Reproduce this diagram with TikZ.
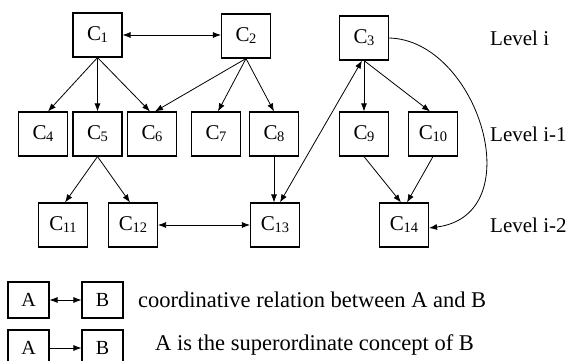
\documentclass[tikz,border=0pt]{standalone}
\usepackage{fontspec}
\setmainfont{Liberation Serif}
\usetikzlibrary{arrows.meta}
\newcommand{\cc}[1]{C\kern-0.5pt\raisebox{-0.2ex}{\fontsize{14.5}{14.5}\selectfont #1}}
\tikzset{
  cbox/.style={draw, line width=1.1pt, minimum width=49pt, minimum height=44pt, inner sep=0pt, font=\fontsize{21}{21}\selectfont},
  lbox/.style={draw, line width=1.1pt, minimum width=41pt, minimum height=36pt, inner sep=0pt, font=\fontsize{20}{20}\selectfont},
  sub/.style={-{Latex[length=8pt,width=6pt]}, line width=0.8pt},
  coord/.style={{Latex[length=8pt,width=6pt]}-{Latex[length=8pt,width=6pt]}, line width=0.8pt},
  lvl/.style={anchor=west, inner sep=0pt, font=\fontsize{21}{21}\selectfont},
  legtext/.style={anchor=west, inner sep=0pt, font=\fontsize{22.5}{22.5}\selectfont}
}
\begin{document}
\begin{tikzpicture}[x=1pt, y=-1pt]
\useasboundingbox (0,0) rectangle (566,361);
% level i
\node[cbox] (C1) at (97.5,35) {\cc{1}};
\node[cbox] (C2) at (246,36) {\cc{2}};
\node[cbox] (C3) at (364,38) {\cc{3}};
% level i-1
\node[cbox] (C4) at (43,134) {\cc{4}};
\node[cbox] (C5) at (97.5,134) {\cc{5}};
\node[cbox] (C6) at (152,134) {\cc{6}};
\node[cbox] (C7) at (216,134) {\cc{7}};
\node[cbox] (C8) at (274,134) {\cc{8}};
\node[cbox] (C9) at (364,134) {\cc{9}};
\node[cbox] (C10) at (433,134) {\cc{10}};
% level i-2
\node[cbox] (C11) at (63,225) {\cc{11}};
\node[cbox] (C12) at (133,225) {\cc{12}};
\node[cbox] (C13) at (275,225) {\cc{13}};
\node[cbox] (C14) at (404,225) {\cc{14}};
% level labels
\node[lvl] (L0) at (490,38) {Level i};
\node[lvl] (L1) at (490,134) {Level i-1};
\node[lvl] (L2) at (490,225) {Level i-2};
% connectors
\draw[coord] (C1.east) -- (C2.west |- C1.east);
\draw[sub] (C1.south) -- ([xshift=5pt]C4.north);
\draw[sub] (C1.south) -- (C5.north);
\draw[sub] (C1.south) -- ([xshift=-2pt]C6.north);
\draw[sub] (C2.south) -- ([xshift=3pt]C6.north);
\draw[sub] (C2.south) -- ([xshift=2pt]C7.north);
\draw[sub] (C2.south) -- (C8.north);
\draw[sub] (C3.south) -- (C9.north);
\draw[sub] (C3.south) -- ([xshift=-3pt]C10.north);
\draw[sub] (C3.east) .. controls (478,40) and (532,215) .. ([yshift=-3pt]C14.east);
\draw[sub] (C5.south) -- ([xshift=2pt]C11.north);
\draw[sub] (C5.south) -- ([xshift=-3pt]C12.north);
\draw[sub] (C8.south) -- (C8.south |- C13.north);
\draw[coord] ([xshift=5pt]C13.north) -- ([xshift=-2pt]C3.south);
\draw[coord] (C12.east) -- (C13.west);
\draw[sub] (C9.south) -- ([xshift=-3pt]C14.north);
\draw[sub] (C10.south) -- ([xshift=3pt]C14.north);
% legend
\node[lbox] (A1) at (28.5,300) {A};
\node[lbox] (B1) at (102.5,300) {B};
\node[lbox] (A2) at (28.5,348) {A};
\node[lbox] (B2) at (102.5,348) {B};
\draw[coord] (A1.east) -- (B1.west);
\draw[sub] (A2.east) -- (B2.west);
\node[legtext] (T1) at (138,300) {coordinative relation between A and B};
\node[legtext] (T2) at (155,345) {A is the superordinate concept of B};
\end{tikzpicture}
\end{document}
